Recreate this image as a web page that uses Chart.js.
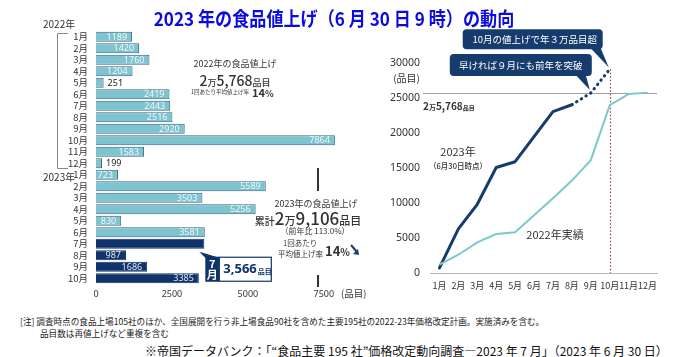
<!DOCTYPE html>
<html><head><meta charset="utf-8">
<script src="https://cdn.jsdelivr.net/npm/chart.js@4.4.0/dist/chart.umd.min.js"></script>
<style>
html,body{margin:0;padding:0;background:#fff;}
body{width:692px;height:357px;position:relative;overflow:hidden;font-family:"Noto Sans CJK JP","Noto Sans",sans-serif;color:#333;}
.t{position:absolute;white-space:nowrap;line-height:1;}
.c{transform:translate(-50%,-50%);}
.l{transform:translateY(-50%);}
.r{transform:translate(-100%,-50%);}
#cl{position:absolute;left:0;top:0;}
#cr{position:absolute;left:380px;top:0;}
.vl{position:absolute;width:2px;background:#333;}
</style></head><body>
<canvas id="cl" width="360" height="305"></canvas>
<canvas id="cr" width="312" height="305"></canvas>

<div class="t" style="left:334px;top:17px;font-size:19px;font-weight:bold;color:#0b0be0;transform:translate(-50%,-50%) scaleX(0.9);">2023 年の食品値上げ（6 月 30 日 9 時）の動向</div>

<div class="t l" style="left:43px;top:24px;font-size:10px;">2022年</div>
<div class="t l" style="left:43px;top:177px;font-size:10px;">2023年</div>
<div class="t l" style="left:341px;top:294px;font-size:9.5px;">(品目)</div>

<div class="t c" style="left:235px;top:63px;font-size:9px;">2022年の食品値上げ</div>
<div class="t c" style="left:235px;top:79px;font-weight:500;"><span style="font-size:14px">2</span><span style="font-size:9px">万</span><span style="font-size:14px">5,768</span><span style="font-size:9px">品目</span></div>
<div class="t l" style="left:191px;top:93px;font-size:5.5px;">1回あたり平均値上げ率</div>
<div class="t l" style="left:252px;top:92px;font-size:11px;font-weight:bold;">14<span style="font-size:9px">%</span></div>

<div class="vl" style="left:317px;top:168px;height:23px;"></div>
<div class="vl" style="left:317px;top:275px;height:12px;"></div>
<div class="t c" style="left:316px;top:203px;font-size:9px;">2023年の食品値上げ</div>
<div class="t c" style="left:308px;top:217px;font-weight:500;"><span style="font-size:10px">累計</span><span style="font-size:17px">2</span><span style="font-size:11px">万</span><span style="font-size:17px">9,106</span><span style="font-size:11px">品目</span></div>
<div class="t c" style="left:315px;top:231px;font-size:8px;">（前年比 113.0%）</div>
<div class="t l" style="left:283px;top:243px;font-size:7.5px;">1回あたり</div>
<div class="t l" style="left:278px;top:254px;font-size:7.5px;">平均値上げ率</div>
<div class="t l" style="left:325px;top:250px;font-size:13px;font-weight:bold;">14<span style="font-size:10px">%</span></div>
<svg style="position:absolute;left:350px;top:244px" width="10" height="12"><path d="M1 1 L7 8" stroke="#1b3f73" stroke-width="2"/><path d="M9 11 L3 10 L8 5 Z" fill="#1b3f73"/></svg>

<div class="t r" style="left:420px;top:78px;font-size:10px;">(品目)</div>
<div class="t l" style="left:423px;top:103px;font-weight:bold;color:#333;"><span style="font-size:10px">2</span><span style="font-size:7px">万</span><span style="font-size:10px">5,768</span><span style="font-size:6px">品目</span></div>
<div class="t c" style="left:458px;top:151px;font-size:11px;">2023年</div>
<div class="t c" style="left:458px;top:166px;font-size:7.5px;font-weight:500;">（6月30日時点）</div>
<div class="t c" style="left:555px;top:234px;font-size:11px;">2022年実績</div>

<div class="t l" style="left:20px;top:321px;font-size:8.6px;color:#222;">[注] 調査時点の食品上場105社のほか、全国展開を行う非上場食品90社を含めた主要195社の2022-23年価格改定計画。実施済みを含む。</div>
<div class="t l" style="left:40px;top:333px;font-size:8.6px;color:#222;">品目数は再値上げなど重複を含む</div>
<div class="t l" style="left:145px;top:351px;font-size:12px;color:#111;">※帝国データバンク：「“食品主要 195 社”価格改定動向調査―2023 年 7 月」（2023 年 6 月 30 日）</div>

<script>
// ---- data ----
const barCategories = ['1月','2月','3月','4月','5月','6月','7月','8月','9月','10月','11月','12月','1月','2月','3月','4月','5月','6月','7月','8月','9月','10月'];
const barValues = [1189,1420,1760,1204,251,2419,2443,2516,2920,7864,1583,199,723,5589,3503,5256,830,3581,3566,987,1686,3385];
const forecastStart = 18;   // 2023年7月以降（予定）
const calloutIndex = 18;    // 7月 3,566品目
const barTicks = [0,2500,5000,7500];

const lineMonths = ['1月','2月','3月','4月','5月','6月','7月','8月','9月','10月','11月','12月'];
const cum2023 = [723,6312,9815,15071,15901,19482,23048,24035,25721,29106,null,null];
const cum2022 = [1189,2609,4369,5573,5824,8243,10686,13202,16122,23986,25569,25768];
const total2022 = 25768;
const lineTicks = [0,5000,10000,15000,20000,25000,30000];
const callout1 = '10月の値上げで年３万品目超';
const callout2 = '早ければ９月にも前年を突破';

// ---- styles ----
const LIGHT = '#7ec3d0', LIGHTB = '#3a627c', DARK = '#10336b', NAVY = '#163b6d', TEAL = '#7cc8cc';
const NUMF = '"Noto Sans","DejaVu Sans",sans-serif';
const JPF = '"Noto Sans CJK JP","Noto Sans",sans-serif';

const leftPlugin = {
  id:'leftDeco',
  afterDatasetsDraw(chart){
    const {ctx, scales:{x,y}} = chart;
    ctx.save();
    ctx.font = '9px ' + NUMF;
    ctx.textBaseline = 'middle';
    const x0 = x.getPixelForValue(0);
    barValues.forEach((v,i)=>{
      if(i===calloutIndex) return;
      const xe = x.getPixelForValue(v), yc = y.getPixelForValue(i)+0.5;
      const s = String(v), w = ctx.measureText(s).width;
      if(xe - x0 > w + 6){
        ctx.fillStyle = i>=forecastStart ? '#dde6f1' : '#eef8fb';
        ctx.textAlign='right'; ctx.fillText(s, xe-5, yc);
      } else {
        ctx.fillStyle = '#222'; ctx.textAlign='left'; ctx.fillText(s, xe+4, yc);
      }
    });
    // bracket for 2022
    const top = Math.round(y.getPixelForValue(0) - 4)+0.5, bot = Math.round(y.getPixelForValue(11) + 5)+0.5;
    ctx.strokeStyle = '#8a8a8a'; ctx.lineWidth = 1;
    ctx.beginPath(); ctx.moveTo(68,top); ctx.lineTo(57.5,top); ctx.lineTo(57.5,bot); ctx.lineTo(68,bot); ctx.stroke();
    // callout for July 2023
    const v = barValues[calloutIndex];
    const tx = x.getPixelForValue(v) - 5, ty = y.getPixelForValue(calloutIndex) + 8;
    const bx = tx + 6, by = ty + 5, bh = 25, dw = 14, ww = 52;
    ctx.fillStyle = DARK;
    ctx.beginPath(); ctx.moveTo(tx,ty); ctx.lineTo(bx, by+1); ctx.lineTo(bx+dw, by+1); ctx.closePath(); ctx.fill();
    ctx.fillRect(bx, by, dw, bh);
    ctx.fillStyle = '#fff'; ctx.fillRect(bx+dw, by, ww, bh);
    ctx.strokeStyle = DARK; ctx.lineWidth = 1.2; ctx.strokeRect(bx+dw, by+0.5, ww, bh-1);
    const mon = barCategories[calloutIndex];
    ctx.fillStyle = '#fff'; ctx.textAlign = 'center'; ctx.font = 'bold 11px ' + JPF;
    ctx.fillText(mon.slice(0, mon.length-1), bx+dw/2, by+7);
    ctx.fillText(mon.slice(-1), bx+dw/2, by+18.5);
    ctx.fillStyle = DARK; ctx.textAlign = 'left'; ctx.font = 'bold 13px ' + NUMF;
    const s = v.toLocaleString('en-US');
    ctx.fillText(s, bx+dw+4, by+bh/2+0.5);
    const sw = ctx.measureText(s).width;
    ctx.font = 'bold 7px ' + JPF;
    ctx.fillText('品目', bx+dw+5+sw, by+bh/2+2);
    ctx.restore();
  }
};

new Chart(document.getElementById('cl'), {
  type:'bar',
  data:{labels:barCategories, datasets:[{
    data:barValues,
    backgroundColor: barValues.map((v,i)=> i>=forecastStart ? DARK : LIGHT),
    borderColor: barValues.map((v,i)=> i>=forecastStart ? DARK : LIGHTB),
    borderWidth:1, barPercentage:0.86, categoryPercentage:1
  }]},
  options:{
    indexAxis:'y', responsive:false, animation:false, events:[],
    plugins:{legend:{display:false}, tooltip:{enabled:false}},
    layout:{padding:{left:0, top:31, right:21, bottom:0}},
    scales:{
      x:{min:0, max:8000,
        afterBuildTicks:s=>{ s.ticks = barTicks.map(v=>({value:v})); },
        grid:{display:false, drawTicks:false}, border:{display:false},
        ticks:{padding:5, color:'#333', font:{size:9, family:NUMF}, callback:v=>String(v)},
        afterFit:s=>{ s.height = 21; }},
      y:{grid:{display:false, drawTicks:false}, border:{display:false},
        ticks:{padding:8, color:'#333', autoSkip:false, font:{size:9.5, family:JPF}},
        afterFit:s=>{ s.width = 96; }}
    }
  },
  plugins:[leftPlugin]
});

function roundRect(ctx,x,y,w,h,r){
  ctx.beginPath(); ctx.moveTo(x+r,y); ctx.lineTo(x+w-r,y); ctx.quadraticCurveTo(x+w,y,x+w,y+r);
  ctx.lineTo(x+w,y+h-r); ctx.quadraticCurveTo(x+w,y+h,x+w-r,y+h); ctx.lineTo(x+r,y+h);
  ctx.quadraticCurveTo(x,y+h,x,y+h-r); ctx.lineTo(x,y+r); ctx.quadraticCurveTo(x,y,x+r,y); ctx.closePath();
}

const rightPlugin = {
  id:'rightDeco',
  beforeDatasetsDraw(chart){
    const {ctx, chartArea:a, scales:{x,y}} = chart;
    ctx.save();
    const gy = Math.round(y.getPixelForValue(total2022))+0.5;
    ctx.strokeStyle = '#a0a0a0'; ctx.lineWidth = 1;
    ctx.beginPath(); ctx.moveTo(a.left-7, gy); ctx.lineTo(a.right, gy); ctx.stroke();
    const vx = Math.round(x.getPixelForValue(9))+0.5;
    ctx.strokeStyle = '#9b3a5c'; ctx.lineWidth = 1.2; ctx.setLineDash([1.5,2]);
    ctx.beginPath(); ctx.moveTo(vx, y.getPixelForValue(cum2023[9])); ctx.lineTo(vx, a.bottom); ctx.stroke();
    ctx.restore();
  },
  afterDatasetsDraw(chart){
    const {ctx, scales:{x,y}} = chart;
    ctx.save();
    ctx.font = '9.5px ' + JPF; ctx.textAlign='center'; ctx.textBaseline='middle';
    // box 1 -> 10月
    const p10x = x.getPixelForValue(9), p10y = y.getPixelForValue(cum2023[9]);
    let r = p10x - 7, b = p10y - 20, w = 140, h = 20;
    ctx.fillStyle = NAVY;
    roundRect(ctx, r-w, b-h, w, h, 4); ctx.fill();
    ctx.beginPath(); ctx.moveTo(r-12, b-1); ctx.lineTo(r-2, b-1); ctx.lineTo(p10x-1, p10y-2); ctx.closePath(); ctx.fill();
    ctx.fillStyle = '#fff'; ctx.fillText(callout1, r-w/2+2, b-h/2+0.5);
    // box 2 -> 9月
    const p9x = x.getPixelForValue(8), p9y = y.getPixelForValue(cum2023[8]);
    r = p9x + 1; b = p9y - 17; w = 142; h = 22;
    ctx.fillStyle = NAVY;
    roundRect(ctx, r-w, b-h, w, h, 4); ctx.fill();
    ctx.beginPath(); ctx.moveTo(r-16, b-1); ctx.lineTo(r-6, b-1); ctx.lineTo(p9x-1, p9y-3); ctx.closePath(); ctx.fill();
    ctx.fillStyle = '#fff'; ctx.fillText(callout2, r-w/2, b-h/2+0.5);
    ctx.restore();
  }
};

new Chart(document.getElementById('cr'), {
  type:'line',
  data:{labels:lineMonths, datasets:[
    {data:cum2022, borderColor:TEAL, borderWidth:2, pointRadius:0, tension:0},
    {data:cum2023, borderColor:NAVY, borderWidth:3, pointRadius:0, tension:0,
      borderCapStyle:'round', borderJoinStyle:'round', spanGaps:false,
      segment:{borderDash: c => c.p0DataIndex >= 7 ? [0.5,5] : undefined}}
  ]},
  options:{
    responsive:false, animation:false, events:[],
    plugins:{legend:{display:false}, tooltip:{enabled:false}},
    layout:{padding:{left:0, top:63, right:35, bottom:0}},
    scales:{
      x:{offset:true, grid:{display:false, drawTicks:false}, border:{display:true, color:'#b5b5b5'},
        ticks:{padding:7, color:'#333', autoSkip:false, maxRotation:0, font:{size:9, family:JPF}},
        afterFit:s=>{ s.height = 32; }},
      y:{min:0, max:30000,
        afterBuildTicks:s=>{ s.ticks = lineTicks.map(v=>({value:v})); },
        grid:{display:false, drawTicks:false}, border:{display:false},
        ticks:{padding:10, color:'#333', font:{size:10.5, family:NUMF}, callback:v=>String(v)},
        afterFit:s=>{ s.width = 50; }}
    }
  },
  plugins:[rightPlugin]
});
</script>
</body></html>
